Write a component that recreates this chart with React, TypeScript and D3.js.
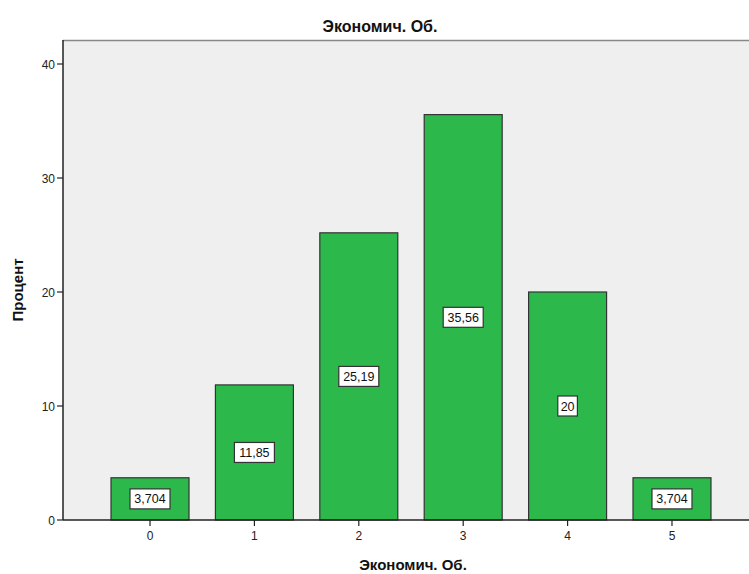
import React from "react";
import * as d3 from "d3";

const categories = ["0", "1", "2", "3", "4", "5"];
const percents = [3.704, 11.85, 25.19, 35.56, 20, 3.704];
const valueLabels = ["3,704", "11,85", "25,19", "35,56", "20", "3,704"];
const yTicks = [0, 10, 20, 30, 40];

const W = 749, H = 574;
const left = 63, top = 40, bottom = 520, right = 759;

export default function App() {
  const x = d3.scaleBand<string>().domain(categories).range([left, right]).paddingInner(0.253).paddingOuter(0.46);
  const y = d3.scaleLinear().domain([0, 40]).range([bottom, 64]);
  const font = "'Liberation Sans', Arial, sans-serif";
  return (
    <svg width={W} height={H} style={{ position: "absolute", left: 0, top: 0 }} fontFamily={font}>
      <rect x={0} y={0} width={W} height={H} fill="#ffffff" />
      <rect x={left} y={top} width={right - left} height={bottom - top} fill="#efefef" />
      <line x1={left} x2={right} y1={top + 0.5} y2={top + 0.5} stroke="#888" strokeWidth={1.5} />
      <text x={380} y={32} textAnchor="middle" fontSize={16} fontWeight="bold" fill="#111">Экономич. Об.</text>
      {categories.map((c, i) => {
        const bx = x(c)!;
        const bw = x.bandwidth();
        const by = y(percents[i]);
        const cy = y(percents[i] / 2);
        const lw = valueLabels[i].length * 6.8 + 6;
        return (
          <g key={c}>
            <rect x={bx} y={by} width={bw} height={bottom - by} fill="#2db84c" stroke="#333" strokeWidth={1.2} />
            <rect x={bx + bw / 2 - lw / 2} y={cy - 10} width={lw} height={20} fill="#fff" stroke="#333" strokeWidth={1.2} />
            <text x={bx + bw / 2} y={cy + 4.5} textAnchor="middle" fontSize={12.5} fill="#111">{valueLabels[i]}</text>
            <line x1={bx + bw / 2} x2={bx + bw / 2} y1={bottom} y2={bottom + 6} stroke="#222" strokeWidth={1.2} />
            <text x={bx + bw / 2} y={bottom + 20} textAnchor="middle" fontSize={12} fill="#222">{c}</text>
          </g>
        );
      })}
      {yTicks.map((t) => (
        <g key={t}>
          <line x1={left - 6} x2={left} y1={y(t)} y2={y(t)} stroke="#222" strokeWidth={1.2} />
          <text x={left - 8} y={y(t) + 4.5} textAnchor="end" fontSize={12} fill="#222">{t}</text>
        </g>
      ))}
      <line x1={left} x2={left} y1={top} y2={bottom} stroke="#222" strokeWidth={1.5} />
      <line x1={left} x2={right} y1={bottom} y2={bottom} stroke="#222" strokeWidth={1.5} />
      <text x={413} y={570} textAnchor="middle" fontSize={15} fontWeight="bold" fill="#111">Экономич. Об.</text>
      <text transform="translate(23,290) rotate(-90)" textAnchor="middle" fontSize={15} fontWeight="bold" fill="#111">Процент</text>
    </svg>
  );
}
